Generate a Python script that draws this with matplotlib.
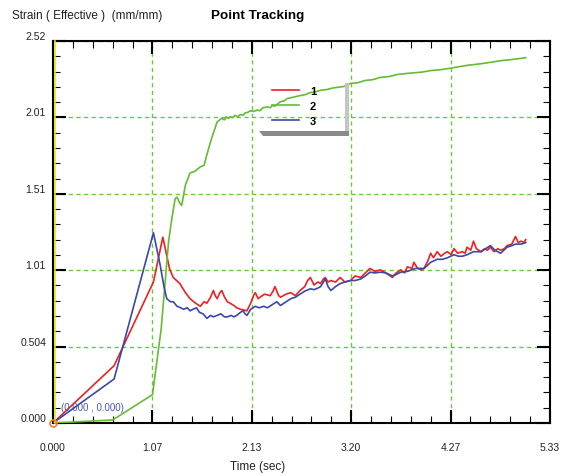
import matplotlib
matplotlib.use("Agg")
import matplotlib.pyplot as plt
import matplotlib.transforms as mtrans
from matplotlib.patches import Rectangle, Polygon

# point 1 (red)
t1 = [0, 0.655, 1.077, 1.178, 1.25, 1.29, 1.36, 1.42, 1.47, 1.53, 1.58, 1.62, 1.65, 1.69,
      1.72, 1.74, 1.76, 1.79, 1.81, 1.84, 1.87, 1.90, 1.94, 1.97, 2.01, 2.05, 2.08, 2.12,
      2.15, 2.17, 2.20, 2.22, 2.27, 2.33, 2.36, 2.38, 2.42, 2.44, 2.50, 2.55, 2.60, 2.65,
      2.70, 2.73, 2.76, 2.80, 2.84, 2.87, 2.90, 2.92, 2.95, 2.98, 3.03, 3.08, 3.13, 3.19,
      3.24, 3.30, 3.35, 3.40, 3.45, 3.51, 3.57, 3.64, 3.68, 3.73, 3.77, 3.80, 3.85, 3.87,
      3.91, 3.95, 3.98, 4.02, 4.05, 4.08, 4.12, 4.16, 4.20, 4.23, 4.27, 4.30, 4.34, 4.39,
      4.42, 4.44, 4.48, 4.51, 4.54, 4.59, 4.63, 4.66, 4.69, 4.73, 4.77, 4.80, 4.84, 4.87,
      4.92, 4.96, 4.99, 5.02, 5.05, 5.07]
s1 = [0, 0.378, 0.93, 1.226, 1.017, 0.96, 0.92, 0.86, 0.82, 0.79, 0.77, 0.80, 0.79, 0.83,
      0.874, 0.84, 0.82, 0.86, 0.874, 0.83, 0.80, 0.79, 0.775, 0.76, 0.75, 0.745, 0.74, 0.79,
      0.84, 0.86, 0.82, 0.83, 0.85, 0.84, 0.87, 0.90, 0.84, 0.83, 0.85, 0.86, 0.84, 0.874,
      0.90, 0.94, 0.96, 0.91, 0.93, 0.92, 0.95, 0.96, 0.93, 0.94, 0.93, 0.96, 0.93, 0.94,
      0.97, 0.96, 0.99, 1.02, 1.00, 1.01, 0.99, 0.96, 0.99, 1.01, 0.99, 1.03, 1.02, 1.06,
      1.02, 1.01, 1.02, 1.07, 1.12, 1.09, 1.13, 1.10, 1.12, 1.13, 1.11, 1.15, 1.12, 1.13,
      1.12, 1.16, 1.14, 1.20, 1.15, 1.13, 1.15, 1.14, 1.16, 1.13, 1.15, 1.14, 1.15, 1.17,
      1.18, 1.23, 1.19, 1.20, 1.19, 1.21]

# point 2 (green)
t2 = [0, 0.64, 1.067, 1.16, 1.24, 1.275, 1.31, 1.33, 1.36, 1.38, 1.42, 1.47, 1.52, 1.58,
      1.62, 1.65, 1.70, 1.76, 1.81, 1.84, 1.86, 1.88, 1.90, 1.93, 1.95, 1.98, 2.01, 2.04,
      2.06, 2.09, 2.12, 2.15, 2.19, 2.22, 2.25, 2.30, 2.33, 2.35, 2.38, 2.40, 2.44, 2.48,
      2.51, 2.58, 2.65, 2.70, 2.76, 2.82, 2.87, 2.94, 3.00, 3.06, 3.12, 3.19, 3.27, 3.35,
      3.43, 3.51, 3.60, 3.70, 3.78, 3.87, 3.96, 4.05, 4.15, 4.26, 4.35, 4.45, 4.52, 4.59,
      4.70, 4.80, 4.88, 4.95, 5.07]
s2 = [0, 0.02, 0.187, 0.62, 1.20, 1.35, 1.48, 1.49, 1.45, 1.435, 1.57, 1.65, 1.66, 1.69,
      1.70, 1.77, 1.876, 1.986, 2.01, 2.00, 2.02, 2.01, 2.02, 2.015, 2.03, 2.02, 2.035, 2.03,
      2.045, 2.05, 2.06, 2.055, 2.065, 2.06, 2.08, 2.085, 2.08, 2.095, 2.09, 2.10, 2.12, 2.125,
      2.14, 2.15, 2.16, 2.165, 2.18, 2.185, 2.195, 2.20, 2.21, 2.215, 2.22, 2.24, 2.245, 2.26,
      2.265, 2.28, 2.285, 2.30, 2.305, 2.31, 2.315, 2.325, 2.33, 2.34, 2.35, 2.36, 2.365, 2.37,
      2.38, 2.39, 2.395, 2.40, 2.41]

# point 3 (blue)
t3 = [0, 0.655, 1.077, 1.15, 1.19, 1.22, 1.26, 1.29, 1.33, 1.37, 1.40, 1.44, 1.47, 1.50,
      1.54, 1.57, 1.61, 1.65, 1.69, 1.72, 1.76, 1.80, 1.84, 1.87, 1.91, 1.94, 1.97, 2.01,
      2.04, 2.06, 2.08, 2.12, 2.17, 2.21, 2.26, 2.30, 2.35, 2.40, 2.44, 2.50, 2.55, 2.60,
      2.65, 2.70, 2.76, 2.80, 2.84, 2.87, 2.90, 2.92, 2.95, 2.98, 3.03, 3.08, 3.13, 3.19,
      3.24, 3.30, 3.35, 3.40, 3.45, 3.51, 3.57, 3.64, 3.68, 3.73, 3.80, 3.89, 3.98, 4.05,
      4.12, 4.18, 4.23, 4.30, 4.35, 4.39, 4.44, 4.51, 4.59, 4.64, 4.69, 4.74, 4.80, 4.87,
      4.92, 4.96, 5.02, 5.07]
s3 = [0, 0.29, 1.255, 1.04, 0.90, 0.82, 0.80, 0.80, 0.77, 0.76, 0.75, 0.76, 0.74, 0.75,
      0.76, 0.73, 0.72, 0.69, 0.71, 0.70, 0.71, 0.72, 0.70, 0.70, 0.71, 0.70, 0.71, 0.73,
      0.74, 0.72, 0.71, 0.75, 0.77, 0.76, 0.77, 0.76, 0.78, 0.80, 0.775, 0.80, 0.82, 0.83,
      0.85, 0.87, 0.885, 0.88, 0.89, 0.90, 0.93, 0.95, 0.90, 0.874, 0.90, 0.92, 0.93, 0.94,
      0.94, 0.95, 0.97, 0.995, 0.99, 0.995, 0.99, 0.97, 0.98, 0.995, 1.00, 1.02, 1.02, 1.06,
      1.08, 1.08, 1.09, 1.11, 1.10, 1.10, 1.11, 1.13, 1.13, 1.15, 1.17, 1.14, 1.12, 1.16,
      1.17, 1.18, 1.18, 1.19]

xticks = [0, 1.066, 2.132, 3.198, 4.264, 5.33]
xlabels = ["0.000", "1.07", "2.13", "3.20", "4.27", "5.33"]
yticks = [0, 0.504, 1.008, 1.512, 2.016, 2.52]
ylabels = ["0.000", "0.504", "1.01", "1.51", "2.01", "2.52"]

plt.rcParams['font.family'] = ['Liberation Sans', 'DejaVu Sans']

fig = plt.figure(figsize=(5.70, 4.77), dpi=100)
ax = fig.add_axes([53 / 570, 1 - 424 / 477, 497 / 570, 382 / 477])

ax.plot(t1, s1, color='#ee2020', lw=1.2, label='1', zorder=3)
ax.plot(t2, s2, color='#66bb33', lw=1.2, label='2', zorder=3)
ax.plot(t3, s3, color='#3a48a8', lw=1.2, label='3', zorder=3)

ax.set_xlim(0, 5.33)
ax.set_ylim(0, 2.52)
ax.set_xticks(xticks)
ax.set_xticklabels(xlabels)
ax.set_yticks(yticks)
ax.set_yticklabels(ylabels)
ax.set_xticks([i * 5.33 / 25 for i in range(26)], minor=True)
ax.set_yticks([i * 2.52 / 25 for i in range(26)], minor=True)

ax.tick_params(which='both', direction='in', top=True, right=True, colors='black',
               labelsize=7.5)
ax.tick_params(which='both', labelcolor='#222222')
ax.tick_params(which='major', length=9.5, width=1.5)
ax.tick_params(which='minor', length=5, width=0.8)
ax.tick_params(axis='x', which='major', pad=14)
ax.tick_params(axis='y', which='major', pad=5)

# y labels sit a bit above their tick
shift = mtrans.ScaledTranslation(0, 6 / 100, fig.dpi_scale_trans)
for lab in ax.get_yticklabels():
    lab.set_transform(lab.get_transform() + shift)

for sp in ax.spines.values():
    sp.set_linewidth(1.5)
    sp.set_color('black')
ax.grid(True, which='major', color='#66cc33', ls=(0, (3, 2.5)), lw=1.0)

# yellow strip on the y axis
ytrans = mtrans.offset_copy(ax.transAxes, fig=fig, x=1.6, y=0, units='dots')
ax.plot([0, 0], [0, 1], color='#e8e020', lw=1.2, transform=ytrans, clip_on=False, zorder=4)

fig.text(258 / 570, 1 - 467 / 477, "Time (sec)", fontsize=8.5, color='#222222',
         va='center', ha='center')
fig.text(12 / 570, 1 - 16 / 477, "Strain ( Effective )  (mm/mm)", fontsize=8.5,
         color='#222222', va='center', ha='left')
fig.text(258 / 570, 1 - 16 / 477, "Point Tracking", fontsize=9.7, fontweight='bold',
         va='center', ha='center')

ax.text(0.085, 0.105, "(0.000 , 0.000)", color='#4a58b0', fontsize=7, va='center')
ax.plot([0], [0], marker='o', ms=5, mfc='none', mec='#f08020', mew=1.2, clip_on=False,
        zorder=5)

leg = ax.legend(loc='upper left', bbox_to_anchor=(262 / 570, 1 - 77 / 477),
                bbox_transform=fig.transFigure, frameon=False, handlelength=2.4,
                handletextpad=1.0, labelspacing=0.45,
                prop={'weight': 'bold', 'size': 8})

# legend drop shadow
def px(x, y):
    return (x / 570, 1 - y / 477)

fig.patches.append(Rectangle(px(345, 137), 4 / 570, 53 / 477, transform=fig.transFigure,
                             facecolor='#c4c4c4', edgecolor='none', zorder=5))
fig.patches.append(Polygon([px(259, 132), px(349, 132), px(349, 137), px(263, 137)],
                           closed=True, transform=fig.transFigure,
                           facecolor='#8a8a8a', edgecolor='none', zorder=5))

fig.savefig("out.png", dpi=100)
